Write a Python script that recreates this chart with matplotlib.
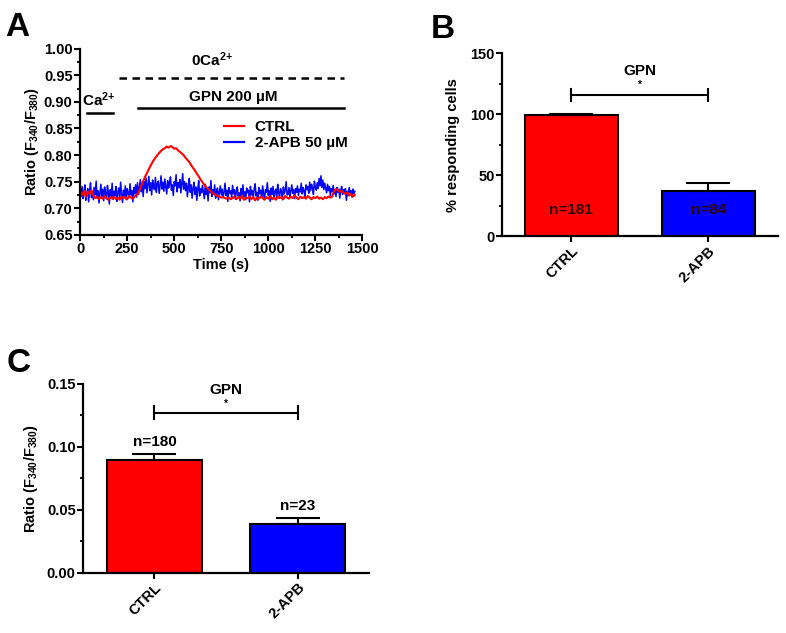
import numpy as np
import matplotlib
matplotlib.use('Agg')
import matplotlib.pyplot as plt
from matplotlib.ticker import MultipleLocator

plt.rcParams['font.family'] = ['Liberation Sans', 'DejaVu Sans']
plt.rcParams['font.weight'] = 'bold'
plt.rcParams['mathtext.fontset'] = 'custom'
plt.rcParams['mathtext.rm'] = 'Liberation Sans:bold'
plt.rcParams['mathtext.it'] = 'Liberation Sans:bold'
plt.rcParams['mathtext.bf'] = 'Liberation Sans:bold'
plt.rcParams['mathtext.sf'] = 'Liberation Sans:bold'

# ---- Datos panel A (trazas, ratio F340/F380) ----
tiempo_ctrl = np.arange(0, 1461, 10)
ratio_ctrl = [
    0.730, 0.725, 0.733, 0.722, 0.731, 0.727, 0.734,
    0.724, 0.719, 0.722, 0.717, 0.721, 0.718, 0.723, 0.719, 0.716, 0.721,
    0.718, 0.722, 0.717, 0.720, 0.716, 0.722, 0.719, 0.721, 0.717, 0.723,
    0.720, 0.718, 0.722, 0.725,
    0.730, 0.738, 0.747, 0.755, 0.763, 0.770, 0.777, 0.784, 0.790, 0.795,
    0.800, 0.804, 0.808, 0.811, 0.813, 0.816, 0.814, 0.817,
    0.815, 0.812, 0.813, 0.809, 0.806, 0.803, 0.800, 0.795, 0.791, 0.787,
    0.781, 0.776, 0.771, 0.765, 0.760, 0.754, 0.749, 0.744, 0.740, 0.736,
    0.733, 0.730,
    0.727, 0.725, 0.723, 0.722, 0.720, 0.721, 0.719, 0.718, 0.720, 0.717,
    0.719, 0.722, 0.717, 0.721, 0.718, 0.723, 0.716, 0.720, 0.719, 0.722,
    0.717, 0.721, 0.715, 0.720, 0.718, 0.722, 0.719, 0.716, 0.721, 0.718,
    0.723, 0.717, 0.720, 0.716, 0.722, 0.719, 0.721, 0.717, 0.723, 0.720,
    0.718, 0.722, 0.719, 0.724, 0.720, 0.717, 0.722, 0.719, 0.721, 0.718,
    0.723, 0.720, 0.717, 0.721, 0.719, 0.722, 0.718, 0.720, 0.717, 0.721,
    0.719, 0.722, 0.720,
    0.722, 0.733, 0.736, 0.734, 0.731, 0.733, 0.729, 0.727, 0.730, 0.724,
    0.727, 0.722, 0.725,
]

tiempo_2apb = np.arange(0, 1461, 5)
ratio_2apb = [
    # 0-300 s
    0.735, 0.722, 0.741, 0.718, 0.730, 0.744, 0.715, 0.728, 0.737, 0.712,
    0.733, 0.748, 0.720, 0.731, 0.716, 0.739, 0.725, 0.751, 0.719, 0.733,
    0.710, 0.727, 0.745, 0.721, 0.736, 0.714, 0.740, 0.726, 0.718, 0.743,
    0.729, 0.708, 0.735, 0.722, 0.747, 0.717, 0.732, 0.724, 0.741, 0.713,
    0.730, 0.738, 0.719, 0.749, 0.726, 0.711, 0.734, 0.723, 0.742, 0.716,
    0.737, 0.728, 0.720, 0.746, 0.725, 0.733, 0.712, 0.739, 0.727, 0.744,
    0.721,
    # 305-650 s
    0.748, 0.726, 0.739, 0.754, 0.731, 0.745, 0.722, 0.750, 0.737, 0.757,
    0.729, 0.744, 0.760, 0.733, 0.748, 0.725, 0.753, 0.740, 0.735, 0.758,
    0.730, 0.746, 0.751, 0.728, 0.743, 0.761, 0.736, 0.749, 0.732, 0.755,
    0.741, 0.727, 0.752, 0.738, 0.746, 0.759, 0.734, 0.744, 0.724, 0.750,
    0.742, 0.763, 0.731, 0.748, 0.739, 0.754, 0.729, 0.745, 0.765, 0.736,
    0.750, 0.733, 0.747, 0.722, 0.741, 0.756, 0.730, 0.744, 0.719, 0.738,
    0.749, 0.726, 0.740, 0.715, 0.735, 0.752, 0.723, 0.737, 0.729, 0.743,
    # 655-1460 s
    0.731, 0.718, 0.745, 0.726, 0.737, 0.714, 0.740, 0.729, 0.752, 0.722,
    0.735, 0.727, 0.744, 0.719, 0.733, 0.738, 0.716, 0.731, 0.742, 0.725,
    0.736, 0.720, 0.730, 0.747, 0.724, 0.734, 0.713, 0.739, 0.728, 0.733,
    0.721, 0.743, 0.727, 0.735, 0.717, 0.732, 0.740, 0.723, 0.729, 0.714,
    0.737, 0.726, 0.744, 0.722, 0.731, 0.716, 0.738, 0.729, 0.734, 0.712,
    0.741, 0.725, 0.733, 0.719, 0.736, 0.746, 0.723, 0.730, 0.715, 0.739,
    0.727, 0.734, 0.721, 0.742, 0.728, 0.717, 0.735, 0.730, 0.748, 0.724,
    0.733, 0.713, 0.738, 0.726, 0.741, 0.720, 0.732, 0.736, 0.718, 0.745,
    0.729, 0.723, 0.737, 0.731, 0.716, 0.740, 0.727, 0.734, 0.750, 0.725,
    0.726, 0.739, 0.721, 0.733, 0.744, 0.728, 0.735, 0.718, 0.737, 0.730,
    0.742, 0.724, 0.736, 0.731, 0.747, 0.727, 0.739, 0.733, 0.721, 0.744,
    0.735, 0.741, 0.728, 0.749, 0.733, 0.745, 0.738, 0.726, 0.751, 0.740,
    0.734, 0.748, 0.737, 0.756, 0.742, 0.761, 0.739, 0.753, 0.735, 0.747,
    0.738, 0.729, 0.745, 0.733, 0.741, 0.724, 0.737, 0.731, 0.743, 0.727,
    0.734, 0.722, 0.739, 0.730, 0.736, 0.719, 0.733, 0.741, 0.726, 0.735,
    0.728, 0.737, 0.715, 0.732, 0.724, 0.739, 0.729, 0.733, 0.721, 0.736,
    0.727, 0.732,
]

# ---- Datos panel B ----
grupos = ['CTRL', '2-APB']
colores = ['#ff0000', '#0000ff']
pct_respuesta = [99.5, 37.0]
pct_error = [1.0, 6.3]
n_b = ['n=181', 'n=84']

# ---- Datos panel C ----
amplitud = [0.0898, 0.0389]
amplitud_error = [0.0044, 0.0045]
n_c = ['n=180', 'n=23']

ylabel_ratio = r'Ratio (F$_{340}$/F$_{380}$)'
ca_sup = r'Ca$^{2\!+}$'
TXT = 11


def estilo_ejes(ax):
    for lado in ['top', 'right']:
        ax.spines[lado].set_visible(False)
    for lado in ['left', 'bottom']:
        ax.spines[lado].set_linewidth(1.6)
    ax.tick_params(which='major', direction='out', length=4, width=1.5,
                   labelsize=10.5, pad=1.5)
    ax.tick_params(which='minor', direction='out', length=2.5, width=1.3)
    for lab in ax.get_xticklabels() + ax.get_yticklabels():
        lab.set_fontweight('bold')


def panel_trazas(ax):
    linea_ctrl, = ax.plot([], [], color='#ff0000', lw=1.6, label='CTRL')
    ax.plot(tiempo_2apb, ratio_2apb, color='#0000ff', lw=1.1)
    ax.plot(tiempo_ctrl, ratio_ctrl, color='#ff0000', lw=1.5)
    linea_2apb, = ax.plot([], [], color='#0000ff', lw=1.6, label='2-APB 50 µM')
    ax.set_xlim(0, 1500)
    ax.set_ylim(0.65, 1.0)
    ax.xaxis.set_major_locator(MultipleLocator(250))
    ax.xaxis.set_minor_locator(MultipleLocator(125))
    ax.yaxis.set_major_locator(MultipleLocator(0.05))
    ax.yaxis.set_minor_locator(MultipleLocator(0.025))
    ax.yaxis.set_major_formatter(plt.FormatStrFormatter('%.2f'))
    ax.set_xlabel('Time (s)', fontsize=10.5, fontweight='bold', labelpad=1)
    ax.set_ylabel(ylabel_ratio, fontsize=10.5, fontweight='bold', labelpad=2)
    # barras de tratamiento
    ax.plot([207, 1400], [0.945, 0.945], color='black', lw=1.8, ls=(0, (3, 2.2)))
    ax.text(700, 0.962, r'0Ca$^{2\!+}$', ha='center', va='bottom', fontsize=TXT,
            fontweight='bold')
    ax.plot([309, 1400], [0.889, 0.889], color='black', lw=1.8)
    ax.text(814, 0.897, 'GPN 200 µM', ha='center', va='bottom', fontsize=TXT,
            fontweight='bold')
    ax.plot([37, 175], [0.879, 0.879], color='black', lw=1.8)
    ax.text(100, 0.887, ca_sup, ha='center', va='bottom', fontsize=TXT,
            fontweight='bold')
    ax.legend(handles=[linea_ctrl, linea_2apb], loc='upper left',
              bbox_to_anchor=(0.51, 0.615), frameon=False,
              handlelength=1.3, handletextpad=0.7, labelspacing=0.1,
              borderpad=0, borderaxespad=0, prop={'weight': 'bold', 'size': TXT})
    estilo_ejes(ax)


def panel_barras(ax, valores, errores, etiquetas_n, ancho, n_dentro):
    x = np.arange(len(grupos))
    ax.bar(x, valores, width=ancho, color=colores, edgecolor='black',
           linewidth=1.5, zorder=2)
    ax.errorbar(x, valores, yerr=[[0, 0], errores], fmt='none', ecolor='black',
                elinewidth=1.5, capsize=16, capthick=1.5, zorder=3)
    ax.set_xticks(x)
    ax.set_xticklabels(grupos, rotation=45, ha='right', rotation_mode='anchor',
                       fontsize=10.5, fontweight='bold')
    for i in range(len(grupos)):
        if n_dentro:
            ax.text(x[i], 21, etiquetas_n[i], ha='center', va='center',
                    fontsize=TXT, fontweight='bold', color='#300000', zorder=4)
        else:
            tope = valores[i] + errores[i]
            ax.text(x[i], tope + 0.004, etiquetas_n[i], ha='center',
                    va='bottom', fontsize=TXT, fontweight='bold')
    estilo_ejes(ax)


fig = plt.figure(figsize=(7.86, 6.33), dpi=100)

# Panel A
ax_a = fig.add_axes([0.102, 0.629, 0.359, 0.294])
panel_trazas(ax_a)

# Panel B
ax_b = fig.add_axes([0.639, 0.627, 0.351, 0.289])
panel_barras(ax_b, pct_respuesta, pct_error, n_b, 0.68, True)
ax_b.set_xlim(-0.504, 1.51)
ax_b.set_ylim(0, 150)
ax_b.yaxis.set_major_locator(MultipleLocator(50))
ax_b.yaxis.set_minor_locator(MultipleLocator(25))
ax_b.set_ylabel('% responding cells', fontsize=10.5, fontweight='bold', labelpad=7)
ax_b.plot([0, 1], [116, 116], color='black', lw=1.5)
ax_b.plot([0, 0], [111, 121], color='black', lw=1.5)
ax_b.plot([1, 1], [111, 121], color='black', lw=1.5)
ax_b.text(0.5, 135, 'GPN', ha='center', va='center', fontsize=TXT, fontweight='bold')
ax_b.text(0.5, 124, '*', ha='center', va='center', fontsize=7)
ax_b.tick_params(axis='x', which='minor', length=0)

# Panel C
ax_c = fig.add_axes([0.106, 0.095, 0.363, 0.299])
panel_barras(ax_c, amplitud, amplitud_error, n_c, 0.66, False)
ax_c.set_xlim(-0.497, 1.497)
ax_c.set_ylim(0, 0.15)
ax_c.yaxis.set_major_locator(MultipleLocator(0.05))
ax_c.yaxis.set_minor_locator(MultipleLocator(0.025))
ax_c.yaxis.set_major_formatter(plt.FormatStrFormatter('%.2f'))
ax_c.set_ylabel(ylabel_ratio, fontsize=10.5, fontweight='bold', labelpad=5)
ax_c.plot([0, 1], [0.127, 0.127], color='black', lw=1.5)
ax_c.plot([0, 0], [0.122, 0.132], color='black', lw=1.5)
ax_c.plot([1, 1], [0.122, 0.132], color='black', lw=1.5)
ax_c.text(0.5, 0.145, 'GPN', ha='center', va='center', fontsize=TXT, fontweight='bold')
ax_c.text(0.5, 0.134, '*', ha='center', va='center', fontsize=7)

# Letras de panel
fig.text(0.006, 0.943, 'A', fontsize=24, fontweight='bold')
fig.text(0.548, 0.940, 'B', fontsize=24, fontweight='bold')
fig.text(0.008, 0.412, 'C', fontsize=24, fontweight='bold')

fig.savefig('out.png', dpi=100)
